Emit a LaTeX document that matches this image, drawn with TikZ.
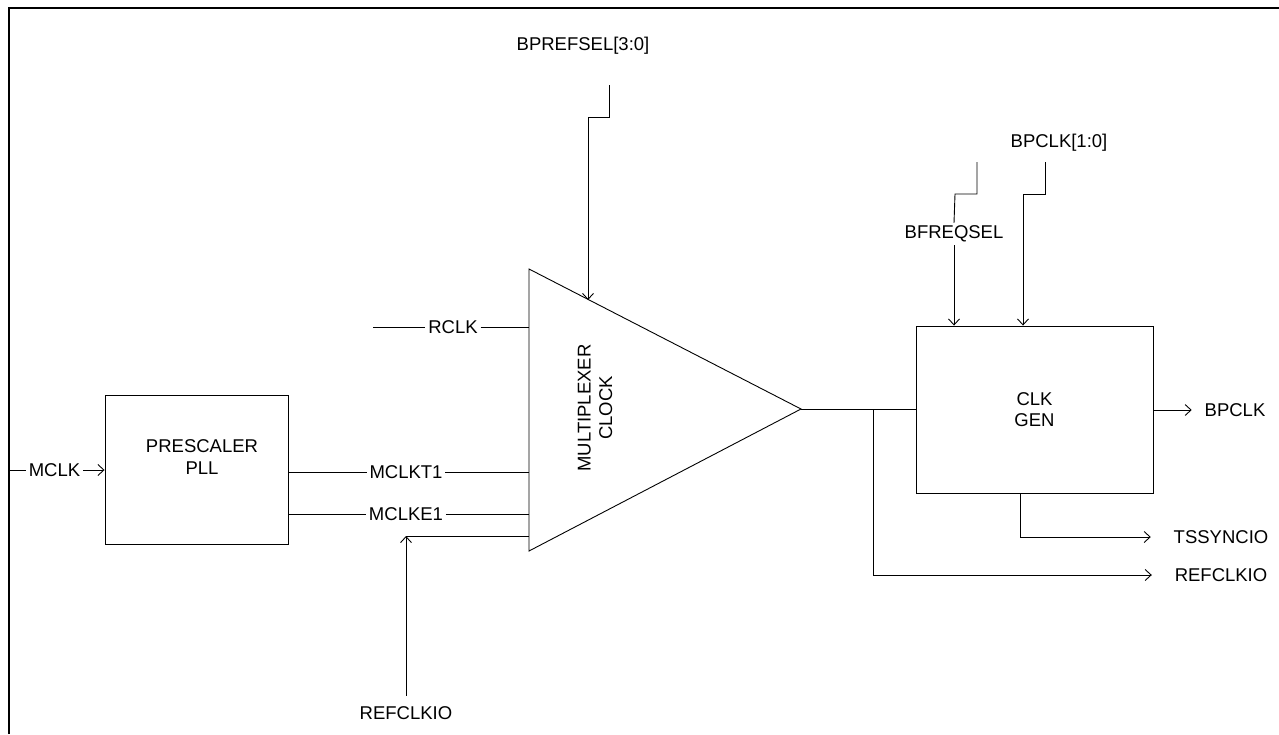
\documentclass[tikz,border=0pt]{standalone}
\usepackage{fontspec}
\setmainfont{Liberation Sans}
\usetikzlibrary{calc,arrows.meta}

\begin{document}
\begin{tikzpicture}[>={Straight Barb[length=6pt,width=11pt]},x=1pt,y=-1pt,line width=0.9pt,
  blk/.style={draw,inner sep=0pt},
  lbl/.style={inner sep=2.5pt,font=\fontsize{18.5}{21.5}\selectfont,align=center}]
  \useasboundingbox (0,0) rectangle (1279,734);
  % frame
  \draw[line width=1.6pt] (9,734) -- (9,8) -- (1279,8);
  % prescaler pll
  \node[blk,minimum width=183pt,minimum height=149pt] (pll) at (196.5,469.5) {};
  \node[lbl] (plltxt) at (202,457) {PRESCALER\\PLL};
  \node[lbl] (mclk) at (54.5,470) {MCLK};
  \coordinate (mclkL) at (9,470);
  \draw (mclkL) -- (mclk.west);
  \draw[->] (mclk.east) -- (mclk.east -| pll.west);
  % clock multiplexer
  \coordinate (muxT) at (529,269);
  \coordinate (muxB) at (529,551);
  \coordinate (muxA) at (801,409);
  \draw (muxT) -- (muxA) -- (muxB) -- cycle;
  \node[lbl,rotate=90] (mux) at (595,408) {MULTIPLEXER\\CLOCK};
  % mux inputs
  \node[lbl] (rclk) at (453,327) {RCLK};
  \coordinate (rclkL) at (373,327);
  \draw (rclkL) -- (rclk.west);
  \draw (rclk.east) -- (rclk.east -| muxT);
  \node[lbl] (mclkt) at (406,472) {MCLKT1};
  \draw (pll.east |- mclkt) -- (mclkt.west);
  \draw (mclkt.east) -- (mclkt.east -| muxT);
  \node[lbl] (mclke) at (406,514) {MCLKE1};
  \draw (pll.east |- mclke) -- (mclke.west);
  \draw (mclke.east) -- (mclke.east -| muxT);
  \node[lbl] (refin) at (406,713) {REFCLKIO};
  \coordinate (refinC) at (406,536);
  \draw[->] ([yshift=8pt]refin.north) -- (refinC);
  \draw (refinC) -- (refinC -| muxT);
  % select
  \node[lbl] (bpref) at (583,46) {BPREFSEL[3:0]};
  \coordinate (bprefA) at (609,85);
  \draw[->] (bprefA) -- ++(0,32) -- ++(-21,0) -- ++(0,183);
  % clk gen
  \node[blk,lbl,minimum width=237pt,minimum height=167pt] (gen) at (1034.5,409.5) {CLK\\GEN};
  \draw (muxA) -- (muxA -| gen.west);
  \coordinate (split) at (873,409);
  \node[lbl] (bpclk) at (1235,410) {BPCLK};
  \draw[->] (gen.east |- bpclk) -- ([xshift=-10pt]bpclk.west);
  \node[lbl] (ts) at (1221,537) {TSSYNCIO};
  \draw[->] ([xshift=-14.5pt]gen.south) |- ([xshift=-20pt]ts.west);
  \node[lbl] (refout) at (1221,575) {REFCLKIO};
  \draw[->] (split) |- ([xshift=-20pt]refout.west);
  % gen inputs
  \node[lbl] (bfreq) at (954,234) {BFREQSEL};
  \coordinate (bfreqA) at (977,162);
  \draw (bfreqA) -- ++(0,32) -- ++(-22,0) -- (bfreq.north);
  \draw[->] (bfreq.south) -- (bfreq.south |- gen.north);
  \node[lbl] (bpsel) at (1059,143) {BPCLK[1:0]};
  \coordinate (bpselA) at (1045,162);
  \draw[->] (bpselA) -- ++(0,32) -| ([xshift=-11.5pt]gen.north);
\end{tikzpicture}
\end{document}
